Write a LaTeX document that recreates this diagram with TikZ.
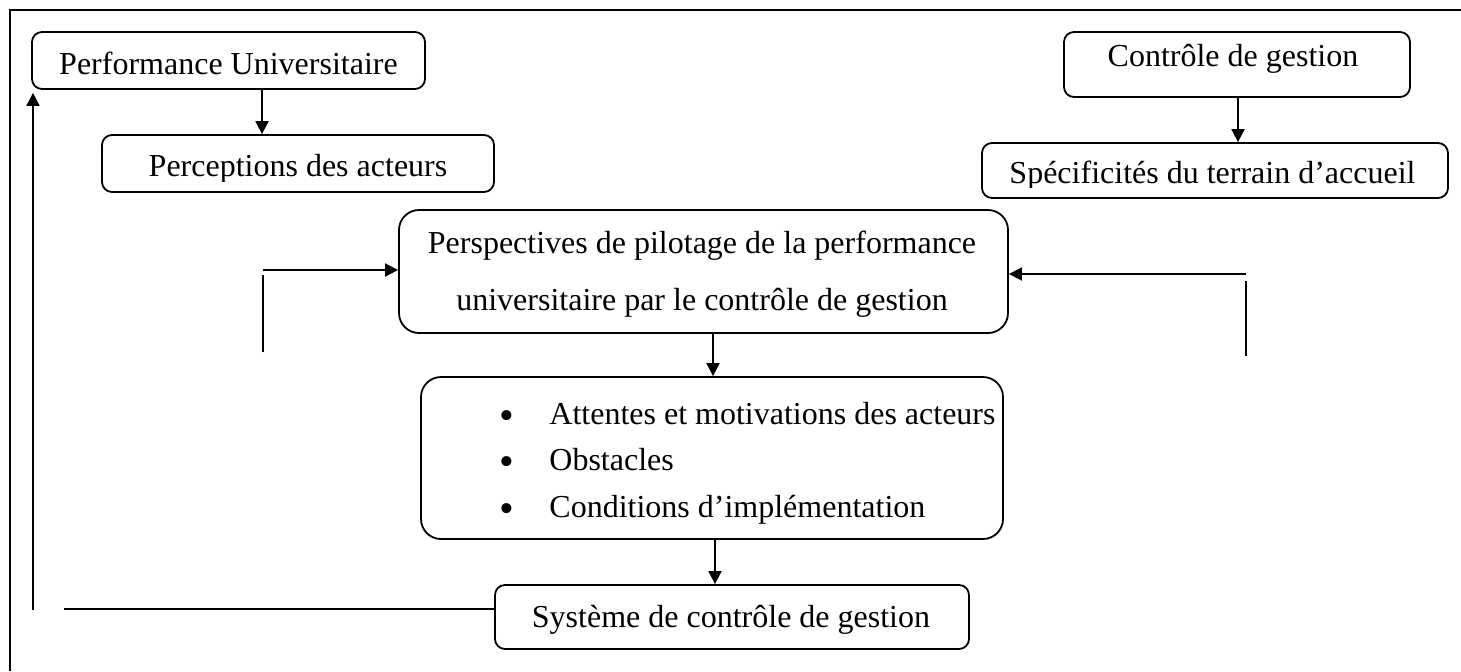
\documentclass[tikz,border=0pt]{standalone}
\usepackage{fontspec}
\setmainfont{Liberation Serif}
\usetikzlibrary{arrows.meta}
\tikzset{
  box/.style={draw, line width=0.9pt, rounded corners=#1, inner sep=0pt},
  box/.default=5pt,
  txt/.style={anchor=base, inner sep=0pt, font=\fontsize{16pt}{19pt}\selectfont},
  bul/.style={anchor=base, inner sep=0pt, font=\fontsize{21pt}{21pt}\selectfont},
  ln/.style={line width=0.9pt},
  arr/.style={line width=0.9pt, -{Triangle[length=6.5pt,width=6.5pt]}},
  frame/.style={line width=1pt}
}
\begin{document}
\begin{tikzpicture}[x=0.5pt,y=-0.5pt]
\useasboundingbox (0,0) rectangle (1461,671);
% frame
\draw[frame] (10,671) -- (10,10) -- (1461,10);

% boxes
\node[box=5pt, minimum width=196.5pt, minimum height=28.5pt] (perf) at (228.5,60.5) {};
\node[txt] (perft) at (228.5,74) {Performance Universitaire};

\node[box=5pt, minimum width=196pt, minimum height=28.5pt] (percep) at (298,163.5) {};
\begin{scope}
\clip (102,135) rectangle (494,181);
\node[txt] (percept) at (298,176) {Perceptions des acteurs};
\end{scope}

\node[box=5pt, minimum width=173pt, minimum height=32.5pt] (ctrl) at (1237,64.5) {};
\node[txt] (ctrlt) at (1233,66) {Contrôle de gestion};

\node[box=5pt, minimum width=233pt, minimum height=27.5pt] (spec) at (1215,170.5) {};
\begin{scope}
\clip (982,143) rectangle (1448,187);
\node[txt] (spect) at (1212.5,183) {Spécificités du terrain d’accueil};
\end{scope}

\node[box=10pt, minimum width=304.5pt, minimum height=61.5pt] (persp) at (703.5,271.5) {};
\node[txt] (persp1) at (702,253) {Perspectives de pilotage de la performance};
\node[txt] (persp2) at (702,310) {universitaire par le contrôle de gestion};

\node[box=10pt, minimum width=291pt, minimum height=81pt] (att) at (712,458) {};
\node[bul] (b1) at (507,429) {•};
\node[bul] (b2) at (507,475) {•};
\node[bul] (b3) at (507,522) {•};
\node[txt, anchor=base west] (att1) at (549,424) {Attentes et motivations des acteurs};
\node[txt, anchor=base west] (att2) at (549,470) {Obstacles};
\node[txt, anchor=base west] (att3) at (549,517) {Conditions d’implémentation};

\node[box=5pt, minimum width=237pt, minimum height=32pt] (sys) at (732,617) {};
\node[txt] (syst) at (731,627) {Système de contrôle de gestion};

% vertical arrows
\coordinate (x1) at (262,0);
\draw[arr] (perf.south -| x1) -- (percep.north -| x1);
\coordinate (x2) at (1238,0);
\draw[arr] (ctrl.south -| x2) -- (spec.north -| x2);
\coordinate (x3) at (713,0);
\draw[arr] (persp.south -| x3) -- (att.north -| x3);
\coordinate (x4) at (715,0);
\draw[arr] (att.south -| x4) -- (sys.north -| x4);

% left feedback
\coordinate (lf1) at (263,352);
\coordinate (lf2) at (263,275);
\draw[ln] (lf1) -- (lf2);
\coordinate (lf3) at (263,270);
\draw[arr] (lf3) -- (lf3 -| persp.west);

% right feedback
\coordinate (rf1) at (1246,356);
\coordinate (rf2) at (1246,281);
\draw[ln] (rf1) -- (rf2);
\coordinate (rf3) at (1246,274);
\draw[arr] (rf3) -- (rf3 -| persp.east);

% bottom loop
\coordinate (bl1) at (64,609);
\draw[ln] (bl1) -- (bl1 -| sys.west);
\coordinate (bl2) at (33,610);
\draw[arr] (bl2) -- ([yshift=-1.5pt]perf.south -| bl2);
\end{tikzpicture}
\end{document}
